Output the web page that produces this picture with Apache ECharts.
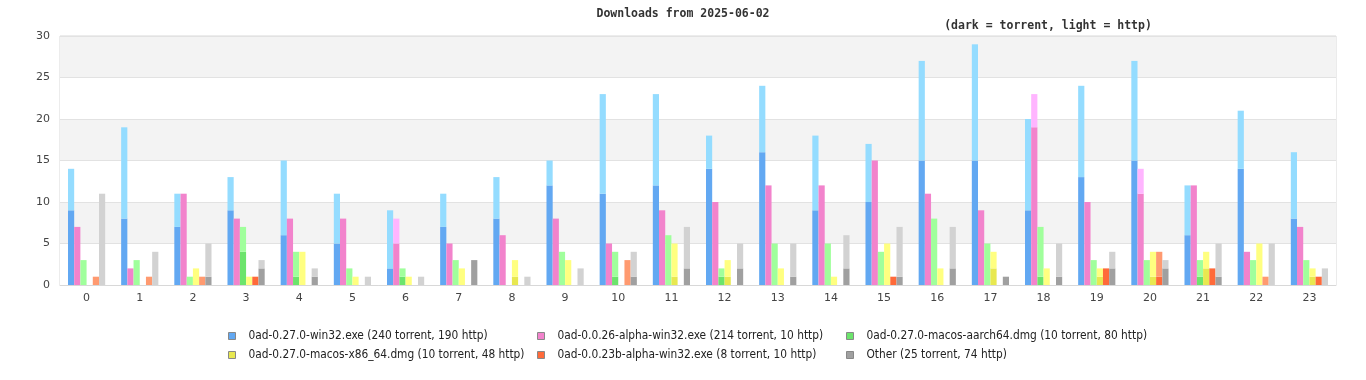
<!DOCTYPE html>
<html>
<head>
<meta charset="utf-8">
<script src="https://cdn.jsdelivr.net/npm/echarts@6/dist/echarts.min.js"></script>
<style>html,body{margin:0;padding:0;background:#fff}#c{width:1366px;height:380px}</style>
</head>
<body>
<div id="c"></div>
<script>
const hours = ['0','1','2','3','4','5','6','7','8','9','10','11','12','13','14','15','16','17','18','19','20','21','22','23'];
const fileNames = [
  '0ad-0.27.0-win32.exe (240 torrent, 190 http)',
  '0ad-0.0.26-alpha-win32.exe (214 torrent, 10 http)',
  '0ad-0.27.0-macos-aarch64.dmg (10 torrent, 80 http)',
  '0ad-0.27.0-macos-x86_64.dmg (10 torrent, 48 http)',
  '0ad-0.0.23b-alpha-win32.exe (8 torrent, 10 http)',
  'Other (25 torrent, 74 http)'
];
const win32Torrent   = [9,8,7,9,6,5,2,7,8,12,11,12,14,16,9,10,15,15,9,13,15,6,14,8];
const win32Http      = [5,11,4,4,9,6,7,4,5,3,12,11,4,8,9,7,12,14,11,11,12,6,7,8];
const a26Torrent     = [7,2,11,8,8,8,5,5,6,8,5,9,10,12,12,15,11,9,19,10,11,12,4,7];
const a26Http        = [0,0,0,0,0,0,3,0,0,0,0,0,0,0,0,0,0,0,4,0,3,0,0,0];
const armTorrent     = [0,0,0,4,1,0,1,0,0,0,1,0,1,0,0,0,0,0,1,0,0,1,0,0];
const armHttp        = [3,3,1,3,3,2,1,3,0,4,3,6,1,5,5,4,8,5,6,3,3,2,3,3];
const x86Torrent     = [0,0,0,0,0,0,0,0,1,0,0,1,1,0,0,0,0,2,0,1,1,2,0,1];
const x86Http        = [0,0,2,1,4,1,1,2,2,3,0,4,2,2,1,5,2,2,2,1,3,2,5,1];
const a23Torrent     = [0,0,0,1,0,0,0,0,0,0,0,0,0,0,0,1,0,0,0,2,1,2,0,1];
const a23Http        = [1,1,1,0,0,0,0,0,0,0,3,0,0,0,0,0,0,0,0,0,3,0,1,0];
const otherTorrent   = [0,0,1,2,1,0,0,3,0,0,1,2,2,1,2,1,2,1,1,2,2,1,0,0];
const otherHttp      = [11,4,4,1,1,1,1,0,1,2,3,5,3,4,4,6,5,0,4,2,1,4,5,2];
const yTicks = [0,5,10,15,20,25,30];

const torrentData = [win32Torrent,a26Torrent,armTorrent,x86Torrent,a23Torrent,otherTorrent];
const httpData = [win32Http,a26Http,armHttp,x86Http,a23Http,otherHttp];
const darkColors  = ['#62a8f2','#f283cc','#6ce46c','#e8e850','#ff6a3a','#a0a0a0'];
const lightColors = ['#94dcff','#ffb5ff','#a0ff9c','#ffff80','#ff9a70','#d2d2d2'];

const series = [];
for (let i = 0; i < 6; i++) {
  series.push({
    name: fileNames[i], type: 'bar', stack: 's' + i,
    data: torrentData[i], barWidth: 6.2, barGap: '0%',
    itemStyle: {color: darkColors[i]}, animation: false
  });
  series.push({
    name: fileNames[i] + ' http', type: 'bar', stack: 's' + i,
    data: httpData[i], barWidth: 6.2, barGap: '0%',
    itemStyle: {color: lightColors[i]}, animation: false
  });
}

const legendPos = [[223,325],[532,325],[841,325],[223,344],[532,344],[841,344]];
const legends = fileNames.map((n, i) => ({
  data: [n], left: legendPos[i][0], top: legendPos[i][1],
  icon: 'rect', itemWidth: 7, itemHeight: 7, itemGap: 0,
  itemStyle: {borderColor: '#888', borderWidth: 1},
  textStyle: {fontFamily: 'Liberation Sans Narrow, DejaVu Sans Condensed, sans-serif', fontSize: 11.8, color: '#222', padding: [0,0,0,8]},
  selectedMode: false
}));

const chart = echarts.init(document.getElementById('c'), null, {renderer: 'canvas'});
chart.setOption({
  backgroundColor: '#fff',
  animation: false,
  title: [
    {text: 'Downloads from 2025-06-02', left: 678, top: 3, textAlign: 'center',
     textStyle: {fontFamily: 'DejaVu Sans Mono, monospace', fontWeight: 'bold', fontSize: 11.5, color: '#333'}},
    {text: '(dark = torrent, light = http)', left: 1043, top: 15, textAlign: 'center',
     textStyle: {fontFamily: 'DejaVu Sans Mono, monospace', fontWeight: 'bold', fontSize: 11.5, color: '#333'}}
  ],
  legend: legends,
  grid: {left: 60, right: 30, top: 36, bottom: 95, show: true, borderColor: '#d8d8d8', borderWidth: 1, backgroundColor: 'transparent'},
  xAxis: {
    type: 'category', data: hours,
    axisLine: {show: true, lineStyle: {color: '#d8d8d8'}},
    axisTick: {show: false},
    axisLabel: {color: '#444', fontSize: 11, fontFamily: 'DejaVu Sans, sans-serif', margin: 8}
  },
  yAxis: {
    type: 'value', min: 0, max: 30, interval: 5,
    axisLine: {show: false}, axisTick: {show: false},
    axisLabel: {color: '#444', fontSize: 11, fontFamily: 'DejaVu Sans, sans-serif', margin: 10,
      formatter: v => yTicks.includes(v) ? String(v) : ''},
    splitLine: {show: true, lineStyle: {color: '#e2e2e2'}},
    splitArea: {show: true, areaStyle: {color: ['#ffffff', '#f3f3f3']}}
  },
  series: series
});
</script>
</body>
</html>
